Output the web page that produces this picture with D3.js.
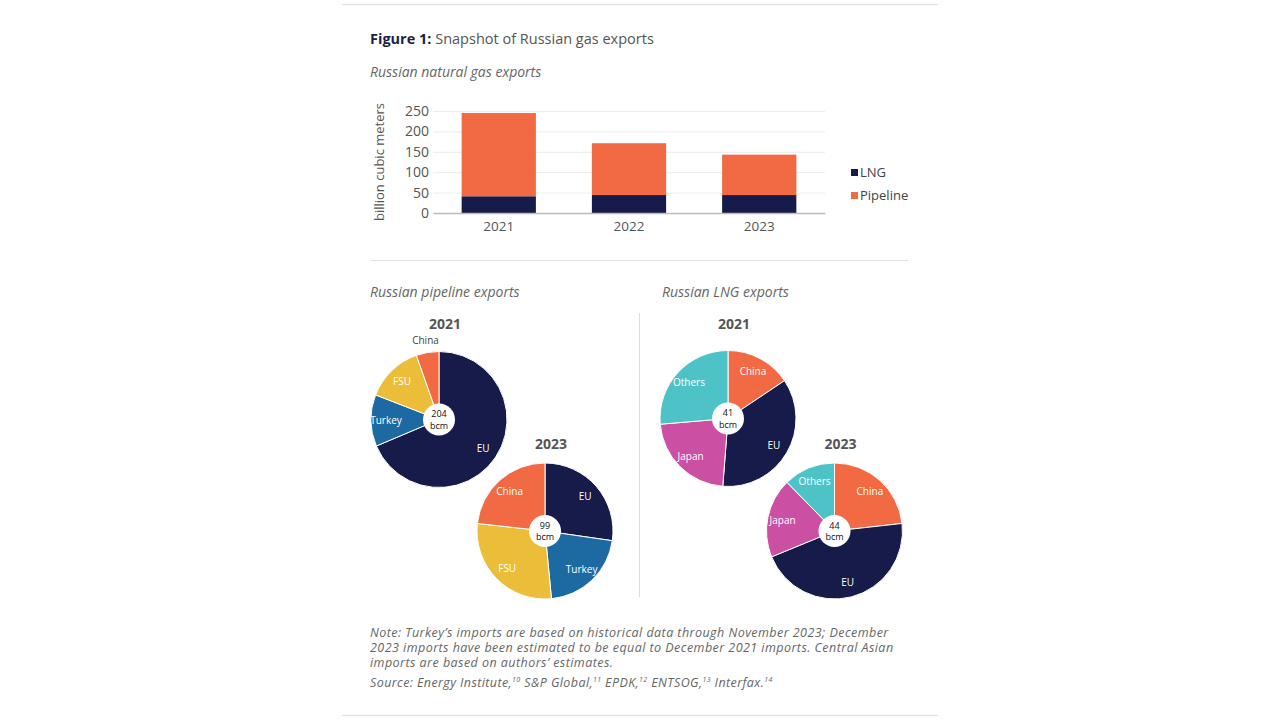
<!DOCTYPE html>
<html>
<head>
<meta charset="utf-8">
<script src="https://cdn.jsdelivr.net/npm/d3@7"></script>
<style>
  body { margin: 0; background: #fff; }
  svg { display: block; font-family: "Open Sans", sans-serif; }
</style>
</head>
<body>
<div id="chart"></div>
<script>
// bar chart data (bcm)
var years = ["2021", "2022", "2023"];
var lngValues = [41, 44, 44];
var pipelineValues = [204, 127, 99];
var yTicks = [0, 50, 100, 150, 200, 250];

// pie data
var pipeCats = ["EU", "Turkey", "FSU", "China"];
var pipe2021 = [140, 25, 28, 11];
var pipe2023 = [27, 21, 28, 23];
var lngCats = ["China", "EU", "Japan", "Others"];
var lng2021 = [6.4, 14.6, 9.2, 10.8];
var lng2023 = [10.2, 20, 8.3, 5.4];

var navy = "#161b4a", orange = "#f26a43", blue = "#1d6aa2", yellow = "#ebbd38",
    magenta = "#cb4fa3", teal = "#4dc3c7";
var sliceColor = { EU: navy, Turkey: blue, FSU: yellow, China: orange, Japan: magenta, Others: teal };

var svg = d3.select("#chart").append("svg")
  .attr("width", 1280).attr("height", 720);

// frame lines
svg.append("line").attr("x1", 342).attr("x2", 938).attr("y1", 4.5).attr("y2", 4.5)
  .attr("stroke", "#e2e2e2").attr("stroke-width", 1.5);
svg.append("line").attr("x1", 342).attr("x2", 938).attr("y1", 715.5).attr("y2", 715.5)
  .attr("stroke", "#e2e2e2").attr("stroke-width", 1.5);
svg.append("line").attr("x1", 370).attr("x2", 908).attr("y1", 260.5).attr("y2", 260.5)
  .attr("stroke", "#e2e2e2");
svg.append("line").attr("x1", 639.5).attr("x2", 639.5).attr("y1", 313).attr("y2", 597)
  .attr("stroke", "#dddddd");

// titles
var t = svg.append("text").attr("x", 370).attr("y", 44).attr("font-size", 14.5);
t.append("tspan").attr("font-weight", "bold").attr("fill", "#1b1f45").text("Figure 1:");
t.append("tspan").attr("fill", "#555").text(" Snapshot of Russian gas exports");

svg.append("text").attr("x", 370).attr("y", 77).attr("font-size", 14)
  .attr("font-style", "italic").attr("fill", "#666").text("Russian natural gas exports");
svg.append("text").attr("x", 370).attr("y", 297).attr("font-size", 14)
  .attr("font-style", "italic").attr("fill", "#666").text("Russian pipeline exports");
svg.append("text").attr("x", 662).attr("y", 297).attr("font-size", 14)
  .attr("font-style", "italic").attr("fill", "#666").text("Russian LNG exports");

// ---- stacked bar chart ----
var x = d3.scaleBand().domain(years).range([433, 825]).paddingInner(0.43).paddingOuter(0.22);
var y = d3.scaleLinear().domain([0, 250]).range([213, 111]);

var g = svg.append("g");
g.selectAll(".grid").data(yTicks.slice(1)).enter().append("line")
  .attr("x1", 433).attr("x2", 825)
  .attr("y1", function(d) { return y(d) + 0.5; })
  .attr("y2", function(d) { return y(d) + 0.5; })
  .attr("stroke", "#ececec");

var yAxis = g.append("g").attr("transform", "translate(433,0)")
  .call(d3.axisLeft(y).tickValues(yTicks).tickSize(0).tickPadding(4));
yAxis.select(".domain").remove();
yAxis.selectAll("text").attr("font-size", 14).attr("fill", "#555")
  .attr("font-family", "'Open Sans', sans-serif");

var rows = years.map(function(yr, i) { return { year: yr, LNG: lngValues[i], Pipeline: pipelineValues[i] }; });
var stacked = d3.stack().keys(["LNG", "Pipeline"])(rows);
var barColor = { LNG: navy, Pipeline: orange };

g.append("g").selectAll("g").data(stacked).enter().append("g")
  .attr("fill", function(d) { return barColor[d.key]; })
  .selectAll("rect").data(function(d) { return d; }).enter().append("rect")
    .attr("x", function(d) { return x(d.data.year); })
    .attr("y", function(d) { return y(d[1]); })
    .attr("height", function(d) { return y(d[0]) - y(d[1]); })
    .attr("width", x.bandwidth());

var xAxis = g.append("g").attr("transform", "translate(0,213)")
  .call(d3.axisBottom(x).tickSize(0).tickPadding(8));
xAxis.select(".domain").attr("stroke", "#bbb").attr("stroke-width", 1.5);
xAxis.selectAll("text").attr("font-size", 13.5).attr("fill", "#555")
  .attr("font-family", "'Open Sans', sans-serif");

svg.append("text").attr("transform", "translate(384,162) rotate(-90)")
  .attr("text-anchor", "middle").attr("font-size", 13).attr("fill", "#555")
  .text("billion cubic meters");

// legend
var legend = svg.append("g").selectAll("g").data(["LNG", "Pipeline"]).enter().append("g")
  .attr("transform", function(d, i) { return "translate(851," + (172 + i * 23) + ")"; });
legend.append("rect").attr("x", 0).attr("y", -3).attr("width", 7).attr("height", 7)
  .attr("fill", function(d) { return barColor[d]; });
legend.append("text").attr("x", 9).attr("y", 5).attr("font-size", 13).attr("fill", "#444")
  .text(function(d) { return d; });

// ---- pies ----
function drawPie(cx, cy, cats, vals, total, year, yearY) {
  var r = 68;
  var data = cats.map(function(c, i) { return { cat: c, v: vals[i] }; });
  var arcs = d3.pie().sort(null).value(function(d) { return d.v; })(data);
  var arc = d3.arc().innerRadius(0).outerRadius(r);
  var lab = d3.arc().innerRadius(r * 0.78).outerRadius(r * 0.78);
  var outLab = d3.arc().innerRadius(r + 12).outerRadius(r + 12);
  var sum = d3.sum(vals);

  var pg = svg.append("g").attr("transform", "translate(" + cx + "," + cy + ")");
  pg.selectAll("path").data(arcs).enter().append("path")
    .attr("d", arc)
    .attr("fill", function(d) { return sliceColor[d.data.cat]; })
    .attr("stroke", "#fff").attr("stroke-width", 1);
  pg.selectAll(".lab").data(arcs).enter().append("text")
    .attr("transform", function(d) {
      var small = d.data.v / sum < 0.08;
      return "translate(" + (small ? outLab : lab).centroid(d) + ")";
    })
    .attr("text-anchor", "middle").attr("dy", "0.35em").attr("font-size", 10)
    .attr("fill", function(d) { return d.data.v / sum < 0.08 ? "#444" : "#fff"; })
    .text(function(d) { return d.data.cat; });
  pg.append("circle").attr("r", 16).attr("fill", "#fff");
  pg.append("text").attr("y", -2.5).attr("text-anchor", "middle").attr("font-size", 9)
    .attr("fill", "#111").text(total);
  pg.append("text").attr("y", 9).attr("text-anchor", "middle").attr("font-size", 9)
    .attr("fill", "#111").text("bcm");
  svg.append("text").attr("x", cx + 6).attr("y", yearY).attr("text-anchor", "middle")
    .attr("font-size", 14).attr("font-weight", "bold").attr("fill", "#555").text(year);
}

drawPie(439, 419.5, pipeCats, pipe2021, "204", "2021", 329);
drawPie(545, 531, pipeCats, pipe2023, "99", "2023", 449);
drawPie(728, 418.5, lngCats, lng2021, "41", "2021", 329);
drawPie(834.5, 531, lngCats, lng2023, "44", "2023", 449);

// notes
var notes = [
  "Note: Turkey\u2019s imports are based on historical data through November 2023; December",
  "2023 imports have been estimated to be equal to December 2021 imports. Central Asian",
  "imports are based on authors\u2019 estimates."
];
svg.selectAll(".note").data(notes).enter().append("text")
  .attr("x", 370).attr("y", function(d, i) { return 637 + i * 15; })
  .attr("font-size", 12.5).attr("letter-spacing", 0.45)
  .attr("font-style", "italic").attr("fill", "#666")
  .text(function(d) { return d; });

var src = svg.append("text").attr("x", 370).attr("y", 687).attr("font-size", 12.5)
  .attr("letter-spacing", 0.4).attr("font-style", "italic").attr("fill", "#666");
var srcParts = [["Source: Energy Institute,", "10"], [" S&P Global,", "11"], [" EPDK,", "12"],
  [" ENTSOG,", "13"], [" Interfax.", "14"]];
srcParts.forEach(function(p) {
  src.append("tspan").attr("y", 687).attr("font-size", 12.5).text(p[0]);
  src.append("tspan").attr("y", 682).attr("font-size", 7).text(p[1]);
});
</script>
</body>
</html>
